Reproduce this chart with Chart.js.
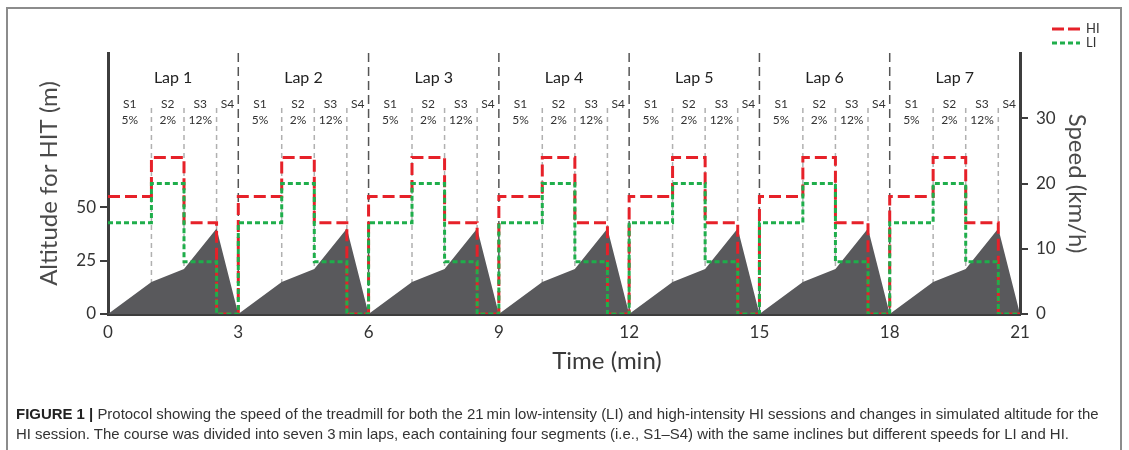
<!DOCTYPE html>
<html>
<head>
<meta charset="utf-8">
<script src="https://cdn.jsdelivr.net/npm/chart.js@4.4.1/dist/chart.umd.min.js"></script>
<style>
  html, body { margin: 0; padding: 0; background: #fff; }
  #wrap { position: relative; width: 1129px; height: 450px; overflow: hidden; }
  #frame { position: absolute; left: 6px; top: 7px; width: 1116px; height: 470px; border: 2px solid #8c8c8c; box-sizing: border-box; }
  #chart { position: absolute; left: 0; top: 0; }
  #caption { position: absolute; left: 16px; top: 404px; white-space: nowrap; font-family: "Liberation Sans", Arial, sans-serif; font-size: 15px; line-height: 20px; color: #333; transform-origin: 0 0; transform: scaleX(0.996); }
  #caption b { color: #222; }
</style>
</head>
<body>
<div id="wrap">
  <div id="frame"></div>
  <canvas id="chart" width="1129" height="450"></canvas>
  <div id="caption"><b>FIGURE 1 |</b> Protocol showing the speed of the treadmill for both the 21&#8201;min low-intensity (LI) and high-intensity HI sessions and changes in simulated altitude for the<br>HI session. The course was divided into seven 3&#8201;min laps, each containing four segments (i.e., S1–S4) with the same inclines but different speeds for LI and HI.</div>
</div>
<script>
// one lap = 3 min, repeated 7 times
var lapLabels = ["Lap 1", "Lap 2", "Lap 3", "Lap 4", "Lap 5", "Lap 6", "Lap 7"];
var lapLength = 3;
var segNames = ["S1", "S2", "S3", "S4"];
var segIncline = ["5%", "2%", "12%", ""];
var segStart = [0, 1, 1.75, 2.5];
var segMid = [0.5, 1.375, 2.125, 2.75];
var hiSpeed = [18, 24, 14, 0];
var liSpeed = [14, 20, 8, 0];
var altTime = [0, 1, 1.75, 2.5];
var altHit = [0, 15, 21, 40];
var timeTicks = [0, 3, 6, 9, 12, 15, 18, 21];
var altTicks = [0, 25, 50];
var speedTicks = [0, 10, 20, 30];

var fontFam = "Lato, 'Open Sans', sans-serif";
var endTime = lapLabels.length * lapLength;

function lapSeries(times, values, endValue) {
    var pts = [];
    lapLabels.forEach(function (lab, i) {
        times.forEach(function (t, j) {
            pts.push({ x: i * lapLength + t, y: values[j] });
        });
    });
    pts.push({ x: endTime, y: endValue });
    return pts;
}

var liData = lapSeries(segStart, liSpeed, 0);
var hiData = lapSeries(segStart, hiSpeed, 0);
var altData = lapSeries(altTime, altHit, 0);

var redColor = '#e62129';
var greenColor = '#1fae4b';

var annotations = {
    id: 'annotations',
    beforeDatasetsDraw: function (chart) {
        var ctx = chart.ctx;
        var xs = chart.scales.x;
        var area = chart.chartArea;
        ctx.save();
        lapLabels.forEach(function (lab, i) {
            var base = i * lapLength;
            // segment dividers
            ctx.strokeStyle = '#b0b0b0';
            ctx.lineWidth = 1.5;
            ctx.setLineDash([5, 4]);
            [1, 2, 3].forEach(function (k) {
                var px = xs.getPixelForValue(base + segStart[k]);
                ctx.beginPath();
                ctx.moveTo(px, 108);
                ctx.lineTo(px, area.bottom);
                ctx.stroke();
            });
            // lap dividers
            if (i > 0) {
                var lx = xs.getPixelForValue(base);
                ctx.strokeStyle = '#555';
                ctx.setLineDash([9, 5]);
                ctx.beginPath();
                ctx.moveTo(lx, area.top);
                ctx.lineTo(lx, area.bottom);
                ctx.stroke();
            }
        });
        ctx.restore();
    },
    afterDraw: function (chart) {
        var ctx = chart.ctx;
        var xs = chart.scales.x;
        var area = chart.chartArea;
        ctx.save();
        ctx.textAlign = 'center';
        ctx.textBaseline = 'middle';
        lapLabels.forEach(function (lab, i) {
            var base = i * lapLength;
            ctx.fillStyle = '#222';
            ctx.font = "16px " + fontFam;
            ctx.fillText(lab, xs.getPixelForValue(base + 1.5), 78);
            ctx.font = "12px " + fontFam;
            ctx.fillStyle = '#333';
            segNames.forEach(function (s, k) {
                var px = xs.getPixelForValue(base + segMid[k]);
                ctx.fillText(s, px, 104);
                if (segIncline[k]) ctx.fillText(segIncline[k], px, 120);
            });
        });
        // x axis title
        ctx.fillStyle = '#3a3a3a';
        ctx.font = "24px " + fontFam;
        ctx.fillText("Time (min)", (area.left + area.right) / 2 + 43, 361);
        // legend
        ctx.lineWidth = 3;
        ctx.strokeStyle = redColor;
        ctx.setLineDash([12, 4]);
        ctx.beginPath(); ctx.moveTo(1052, 29); ctx.lineTo(1080, 29); ctx.stroke();
        ctx.strokeStyle = greenColor;
        ctx.setLineDash([5, 3]);
        ctx.beginPath(); ctx.moveTo(1052, 43); ctx.lineTo(1080, 43); ctx.stroke();
        ctx.setLineDash([]);
        ctx.fillStyle = '#333';
        ctx.textAlign = 'left';
        ctx.font = "13px " + fontFam;
        ctx.fillText("HI", 1086, 29);
        ctx.fillText("LI", 1086, 43);
        ctx.restore();
    }
};

var axisColor = '#3d3d3d';

new Chart(document.getElementById('chart'), {
    type: 'line',
    data: {
        datasets: [{
            label: 'LI',
            data: liData,
            yAxisID: 'y2',
            stepped: true,
            borderColor: greenColor,
            borderWidth: 3,
            borderDash: [5, 3],
            pointRadius: 0,
            fill: false
        }, {
            label: 'HI',
            data: hiData,
            yAxisID: 'y2',
            stepped: true,
            borderColor: redColor,
            borderWidth: 3,
            borderDash: [12, 5],
            pointRadius: 0,
            fill: false
        }, {
            label: 'Altitude',
            data: altData,
            yAxisID: 'y',
            borderWidth: 0,
            borderColor: '#59595c',
            backgroundColor: '#59595c',
            pointRadius: 0,
            tension: 0,
            fill: 'origin'
        }]
    },
    plugins: [annotations],
    options: {
        responsive: false,
        animation: false,
        devicePixelRatio: 1,
        layout: { padding: { top: 53, left: 0, right: 0, bottom: 0 } },
        plugins: { legend: { display: false }, tooltip: { enabled: false } },
        scales: {
            x: {
                type: 'linear',
                min: 0,
                max: endTime,
                z: 1,
                afterBuildTicks: function (scale) {
                    scale.ticks = timeTicks.map(function (v) { return { value: v }; });
                },
                afterFit: function (scale) { scale.height = 136; },
                grid: { display: false },
                border: { display: true, color: axisColor, width: 3 },
                ticks: { padding: 0, color: '#333', font: { family: fontFam, size: 17 }, maxRotation: 0 }
            },
            y: {
                position: 'left',
                min: 0,
                max: 122,
                afterBuildTicks: function (scale) {
                    scale.ticks = altTicks.map(function (v) { return { value: v }; });
                },
                afterFit: function (scale) { scale.width = 108; },
                grid: { drawOnChartArea: false, drawTicks: true, tickLength: 8, color: axisColor, lineWidth: 2 },
                border: { display: true, color: axisColor, width: 3 },
                ticks: { padding: 4, color: '#333', font: { family: fontFam, size: 17 } },
                title: { display: true, text: 'Altitude for HIT (m)', color: '#4a4a4a', font: { family: fontFam, size: 24 }, padding: { top: 35, bottom: 0 } }
            },
            y2: {
                position: 'right',
                min: 0,
                max: 40,
                afterBuildTicks: function (scale) {
                    scale.ticks = speedTicks.map(function (v) { return { value: v }; });
                },
                afterFit: function (scale) { scale.width = 109; },
                grid: { drawOnChartArea: false, drawTicks: true, tickLength: 8, color: axisColor, lineWidth: 2 },
                border: { display: true, color: axisColor, width: 3 },
                ticks: { padding: 8, color: '#333', font: { family: fontFam, size: 17 } },
                title: { display: true, text: 'Speed (km/h)', color: '#4a4a4a', font: { family: fontFam, size: 24 }, padding: { top: 38, bottom: 0 } }
            }
        }
    }
});
</script>
</body>
</html>
